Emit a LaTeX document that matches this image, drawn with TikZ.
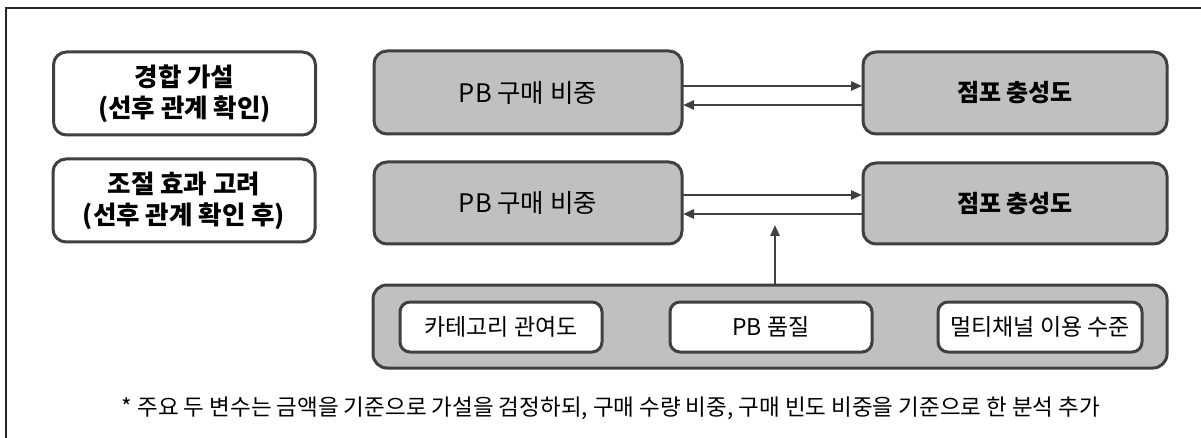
\documentclass[tikz,border=0pt]{standalone}
\usepackage{fontspec}
\setmainfont{Noto Sans CJK KR}
\usetikzlibrary{arrows.meta}
\definecolor{edge}{HTML}{404040}
\definecolor{boxgray}{HTML}{C0C0C0}
\tikzset{
  frame/.style={line width=2pt, draw=black!85},
  labelbox/.style={draw=edge, line width=3pt, fill=white, rounded corners=13pt, inner sep=0pt, align=center, font=\fontsize{25.5}{31}\selectfont\bfseries},
  varbox/.style={draw=edge, line width=3pt, fill=boxgray, rounded corners=13pt, inner sep=0pt, align=center},
  groupbox/.style={draw=edge, line width=3pt, fill=boxgray, rounded corners=14pt, inner sep=0pt},
  itembox/.style={draw=edge, line width=3pt, fill=white, rounded corners=10pt, inner sep=0pt, align=center, font=\fontsize{23}{26}\selectfont},
  arr/.style={draw=edge, line width=2.6pt, -{Triangle[length=11pt,width=9pt]}},
  note/.style={font=\fontsize{22.5}{26}\selectfont, inner sep=0pt}
}
\begin{document}
\begin{tikzpicture}[x=1pt,y=-1pt]
\useasboundingbox (0,0) rectangle (1201,438);
\fill[white] (0,0) rectangle (1201,438);
\draw[frame] (6,438) -- (6,8) -- (1201,8);

% left labels
\node[labelbox, minimum width=262pt, minimum height=83pt] (l1) at (184.5,93.5) {경합 가설\\(선후 관계 확인)};
\node[labelbox, minimum width=262pt, minimum height=83pt] (l2) at (184,200.5) {조절 효과 고려\\(선후 관계 확인 후)};

% PB boxes
\node[varbox, minimum width=308pt, minimum height=83pt, font=\fontsize{25.5}{28}\selectfont] (pb1) at (528,92.5) {PB 구매 비중};
\node[varbox, minimum width=308pt, minimum height=82pt, font=\fontsize{25.5}{28}\selectfont] (pb2) at (528,203) {PB 구매 비중};

% store loyalty boxes
\node[varbox, minimum width=304pt, minimum height=82pt, font=\fontsize{24}{28}\selectfont\bfseries] (st1) at (1015,93) {점포 충성도};
\node[varbox, minimum width=304pt, minimum height=81pt, font=\fontsize{24}{28}\selectfont\bfseries] (st2) at (1015,203.5) {점포 충성도};

% arrows row 1
\coordinate (a1s) at (682,86);
\coordinate (a1e) at (862,86);
\coordinate (b1s) at (863,105);
\coordinate (b1e) at (683,105);
\draw[arr] (a1s) -- (a1e);
\draw[arr] (b1s) -- (b1e);
% arrows row 2
\coordinate (a2s) at (682,195);
\coordinate (a2e) at (862,195);
\coordinate (b2s) at (863,214);
\coordinate (b2e) at (683,214);
\draw[arr] (a2s) -- (a2e);
\draw[arr] (b2s) -- (b2e);

% moderator group
\node[groupbox, minimum width=794pt, minimum height=83pt] (grp) at (770,326.5) {};
\node[itembox, minimum width=202pt, minimum height=50pt] (m1) at (501,327) {카테고리 관여도};
\node[itembox, minimum width=202pt, minimum height=50pt] (m2) at (771,327) {PB 품질};
\node[itembox, minimum width=204pt, minimum height=50pt] (m3) at (1040,327) {멀티채널 이용 수준};

\coordinate (up) at (775,225);
\draw[arr] (grp.north -| up) -- (up);

% footnote
\node[note] (fn) at (611,408) {* 주요 두 변수는 금액을 기준으로 가설을 검정하되, 구매 수량 비중, 구매 빈도 비중을 기준으로 한 분석 추가};
\end{tikzpicture}
\end{document}
